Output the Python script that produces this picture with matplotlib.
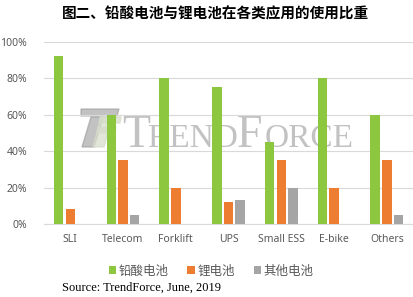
import numpy as np
import matplotlib
matplotlib.use('Agg')
import matplotlib.pyplot as plt
from matplotlib.patches import Polygon
from matplotlib.ticker import PercentFormatter

plt.rcParams['font.family'] = ['Noto Sans', 'Noto Sans CJK SC', 'DejaVu Sans']

# data
categories = ['SLI', 'Telecom', 'Forklift', 'UPS', 'Small ESS', 'E-bike', 'Others']
lead_acid = [92, 60, 80, 75, 45, 80, 60]
lithium = [8, 35, 20, 12, 35, 20, 35]
other = [0, 5, 0, 13, 20, 0, 5]
series_names = ['铅酸电池', '锂电池', '其他电池']
colors = ['#8DC63F', '#ED7D31', '#A5A5A5']

W, H = 414, 297
fig = plt.figure(figsize=(W / 100, H / 100), dpi=100)
ax = fig.add_axes([0.106, 0.246, 0.892, 0.613])
ax.patch.set_visible(False)

x = np.arange(len(categories))
w = 0.18
off = 0.22
for i, (vals, name) in enumerate(zip([lead_acid, lithium, other], series_names)):
    ax.bar(x + (i - 1) * off, vals, width=w, color=colors[i], label=name, zorder=3)

ax.set_xlim(-0.5, len(categories) - 0.5)
ax.set_ylim(0, 100)
ax.set_yticks(range(0, 101, 20))
ax.yaxis.set_major_formatter(PercentFormatter(decimals=0))
ax.grid(axis='y', color='#D9D9D9', linewidth=0.8, zorder=0)
for s in ['top', 'right', 'left']:
    ax.spines[s].set_visible(False)
ax.spines['bottom'].set_color('#D9D9D9')
ax.tick_params(axis='both', length=0, colors='#595959', labelsize=7.5)
ax.tick_params(axis='x', pad=7)
ax.tick_params(axis='y', pad=12)
ax.set_xticks(x)
ax.set_xticklabels(categories)


# watermark (pixel positions -> figure fractions), drawn behind the bars
def fx(px):
    return px / W


def fy(py):
    return 1 - py / H


wm = dict(family='Liberation Serif', color='#9A9A9A', alpha=0.6, va='baseline', zorder=-1)
base = fy(147)
fig.text(fx(122), base, 'T', fontsize=33, **wm)
fig.text(fx(147), base, 'REND', fontsize=24, **wm)
fig.text(fx(237), base, 'F', fontsize=33, **wm)
fig.text(fx(265), base, 'ORCE', fontsize=24, **wm)

logo_gray = [[(81, 109), (119, 109), (117, 116), (81, 116)],
             [(82, 147), (94, 147), (103, 117), (91, 117)]]
for pts in logo_gray:
    fig.patches.append(Polygon([(fx(a), fy(b)) for a, b in pts], closed=True,
                               transform=fig.transFigure, color='#9A9A9A', alpha=0.6, zorder=-1))
logo_light = [[(100, 117), (121, 117), (120, 123), (99, 123)],
              [(98, 127), (116, 127), (115, 133), (97, 133)],
              [(93, 147), (104, 147), (112, 117), (101, 117)]]
for pts in logo_light:
    fig.patches.append(Polygon([(fx(a), fy(b)) for a, b in pts], closed=True,
                               transform=fig.transFigure, color='#D5DCC8', alpha=0.7, zorder=-1))

fig.text(0.52, 0.955, '图二、铅酸电池与锂电池在各类应用的使用比重', ha='center', va='center',
         fontsize=10.5, fontweight='bold', family=['Noto Sans CJK SC'])

leg = fig.legend(loc='center', bbox_to_anchor=(0.51, 0.087), ncol=3, frameon=False,
                 prop={'family': ['Noto Sans CJK SC'], 'size': 9},
                 handlelength=0.6, handleheight=0.6, handletextpad=0.2, columnspacing=1.5)
for t in leg.get_texts():
    t.set_color('#595959')

fig.text(0.15, 0.03, 'Source: TrendForce, June, 2019', family='Liberation Serif', fontsize=9, va='center')

fig.savefig('out.png', dpi=100)
